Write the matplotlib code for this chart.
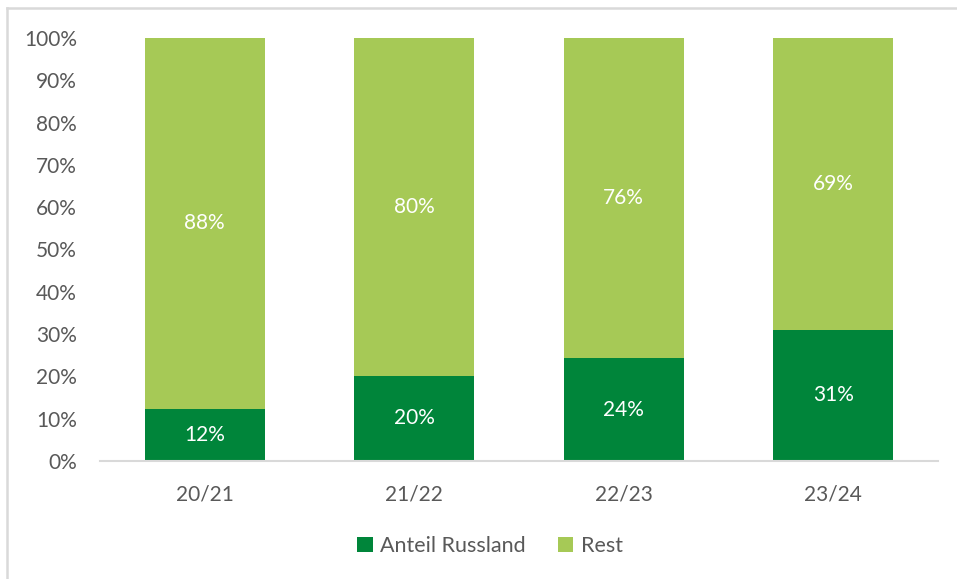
import matplotlib
matplotlib.use("Agg")
import matplotlib.pyplot as plt
from matplotlib.lines import Line2D
from matplotlib.patches import Patch

categories = ["20/21", "21/22", "22/23", "23/24"]
russland = [12.3, 20.1, 24.3, 31.0]
rest = [87.7, 79.9, 75.7, 69.0]
series_names = ["Anteil Russland", "Rest"]
yticks = [0, 10, 20, 30, 40, 50, 60, 70, 80, 90, 100]

dark = "#00853A"
light = "#A6C956"
gray_text = "#595959"
plt.rcParams["font.family"] = ["Lato", "DejaVu Sans"]

W, H = 957, 579
fig = plt.figure(figsize=(W / 100, H / 100), dpi=100)
ax = fig.add_axes([100 / W, 1 - 461 / H, 838 / W, 423 / H])

x = list(range(len(categories)))
ax.bar(x, russland, width=0.573, color=dark, label=series_names[0])
ax.bar(x, rest, width=0.573, bottom=russland, color=light, label=series_names[1])

fs = 15
for xi, r, s in zip(x, russland, rest):
    ax.text(xi, r / 2, f"{r:.0f}%", ha="center", va="center", color="white", fontsize=fs)
    ax.text(xi, r + s / 2, f"{s:.0f}%", ha="center", va="center", color="white", fontsize=fs)

ax.set_xlim(-0.5, len(categories) - 0.5)
ax.set_ylim(0, 100)
ax.set_yticks(yticks)
ax.set_yticklabels([f"{t}%" for t in yticks], color=gray_text, fontsize=fs)
ax.set_xticks(x)
ax.set_xticklabels(categories, color=gray_text, fontsize=fs)
ax.tick_params(axis="both", length=0)
ax.tick_params(axis="y", pad=16.5)
ax.tick_params(axis="x", pad=17)
for s in ["top", "right", "left"]:
    ax.spines[s].set_visible(False)
ax.spines["bottom"].set_color("#D9D9D9")
ax.spines["bottom"].set_linewidth(1.5)

handles = [Patch(facecolor=dark), Patch(facecolor=light)]
fig.legend(handles, series_names, loc="center", bbox_to_anchor=(490 / W, 1 - 546 / H),
           ncol=2, frameon=False, fontsize=15.5, labelcolor=gray_text,
           handlelength=0.7, handleheight=0.7, handletextpad=0.35, columnspacing=1.5)

fig.add_artist(Line2D([7 / W, 7 / W], [0, 1 - 8 / H], transform=fig.transFigure, color="#D9D9D9", lw=1.8))
fig.add_artist(Line2D([7 / W, 1], [1 - 8 / H, 1 - 8 / H], transform=fig.transFigure, color="#D9D9D9", lw=1.8))

fig.savefig("out.png", dpi=100)
